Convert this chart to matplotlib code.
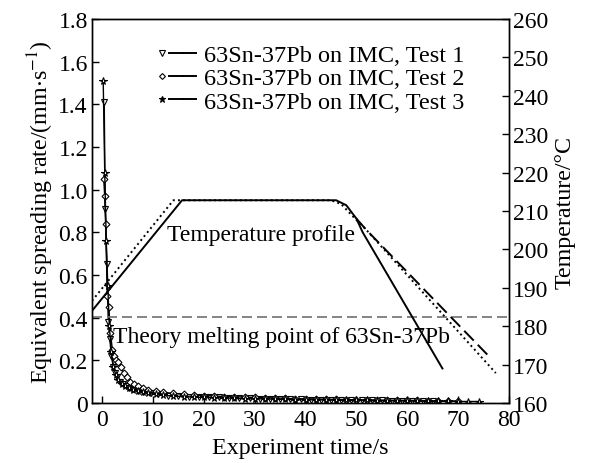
import matplotlib
matplotlib.use("Agg")
import matplotlib.pyplot as plt
from matplotlib.lines import Line2D
from matplotlib.legend_handler import HandlerTuple

plt.rcParams['font.family'] = ['Liberation Serif', 'DejaVu Serif']
plt.rcParams['mathtext.fontset'] = 'stix'

# spreading rate, test 1 (triangles)
t1 = [0.4, 0.6, 0.9, 1.2, 1.5, 1.8, 2.2, 2.6, 3.0, 3.5, 4.0, 4.6, 5.2, 6.0, 7.0, 8.0, 9.5, 11, 13, 15,
      17, 19, 21, 23, 25, 27, 29, 31, 33, 35, 37, 39, 41, 43, 45, 47, 49, 51, 53, 55, 57, 59, 61, 63, 65]
r1 = [1.41, 0.91, 0.65, 0.38, 0.30, 0.22, 0.17, 0.14, 0.12, 0.10, 0.09, 0.08, 0.07, 0.065, 0.055, 0.05,
      0.045, 0.04, 0.035, 0.033, 0.03, 0.03, 0.028, 0.026, 0.025, 0.024, 0.022, 0.02, 0.02, 0.019, 0.018,
      0.017, 0.016, 0.015, 0.015, 0.014, 0.013, 0.013, 0.012, 0.012, 0.011, 0.010, 0.010, 0.009, 0.009]

# test 2 (diamonds)
t2 = [0.3, 0.5, 0.7, 1.0, 1.3, 1.6, 2.0, 2.4, 2.8, 3.2, 3.7, 4.2, 4.8, 5.5, 6.2, 7.0, 8.0, 9.0, 10.5, 12,
      14, 16, 18, 20, 22, 24, 26, 28, 30, 32, 34, 36, 38, 40, 42, 44, 46, 48, 50, 52, 54, 56, 58, 60, 62, 64, 66, 68, 70]
r2 = [1.05, 0.97, 0.84, 0.50, 0.45, 0.33, 0.25, 0.22, 0.20, 0.19, 0.17, 0.14, 0.12, 0.10, 0.09, 0.08,
      0.07, 0.06, 0.055, 0.05, 0.045, 0.04, 0.038, 0.035, 0.033, 0.03, 0.03, 0.028, 0.026, 0.025, 0.024,
      0.022, 0.02, 0.02, 0.019, 0.018, 0.017, 0.016, 0.015, 0.015, 0.014, 0.013, 0.013, 0.012, 0.012,
      0.011, 0.010, 0.010, 0.009]

# test 3 (stars)
t3 = [0.2, 0.5, 0.8, 1.1, 1.4, 1.8, 2.2, 2.7, 3.2, 3.8, 4.5, 5.2, 6.0, 7.0, 8.0, 9.0, 10.5, 12, 14, 16,
      18, 20, 22, 24, 26, 28, 30, 32, 34, 36, 38, 40, 42, 44, 46, 48, 50, 52, 54, 56, 58, 60, 62, 64, 66,
      68, 70, 72, 74]
r3 = [1.51, 1.08, 0.76, 0.55, 0.36, 0.24, 0.17, 0.13, 0.11, 0.09, 0.08, 0.07, 0.06, 0.055, 0.05, 0.045,
      0.04, 0.036, 0.033, 0.03, 0.028, 0.026, 0.025, 0.024, 0.022, 0.02, 0.02, 0.019, 0.018, 0.017, 0.016,
      0.015, 0.015, 0.014, 0.013, 0.013, 0.012, 0.012, 0.011, 0.010, 0.010, 0.009, 0.009, 0.008, 0.008,
      0.008, 0.007, 0.007, 0.007]

# temperature profiles (right axis)
tp_solid = [-2, 15.7, 46.0, 48.0, 50.0, 51.2, 66.9]
T_solid = [184.0, 212.8, 212.8, 211.5, 208.0, 204.5, 169.0]
tp_dot = [-2, 14.0, 45.0, 47.0, 49.0, 52.0, 77.4]
T_dot = [186.6, 212.8, 212.8, 211.8, 209.0, 205.0, 167.8]
tp_dash = [50.0, 52.0, 76.1]
T_dash = [208.0, 205.0, 172.1]

melting_rate = 0.405

fig = plt.figure(figsize=(5.91, 4.64), dpi=100)
ax = fig.add_axes([0.1557, 0.1293, 0.7056, 0.8276])
ax2 = ax.twinx()

ms = 4.5
ax.plot(t1, r1, color='k', lw=1.0, marker='v', ms=ms, mfc='white', mec='k', mew=0.8)
ax.plot(t2, r2, color='k', lw=1.0, marker='D', ms=ms - 1, mfc='white', mec='k', mew=0.8)
ax.plot(t3, r3, color='k', lw=1.0, marker='*', ms=ms + 1, mfc='white', mec='k', mew=0.8)

ax.axhline(melting_rate, color='#707070', lw=1.2, dashes=(6, 3))

ax2.plot(tp_dot, T_dot, color='k', lw=1.4, ls=':')
ax2.plot(tp_dash, T_dash, color='k', lw=1.4, dashes=(7, 3))
ax2.plot(tp_solid, T_solid, color='k', lw=1.4)

ax.set_xlim(-2, 80)
ax.set_ylim(0, 1.8)
ax2.set_ylim(160, 260)
ax.set_xticks(range(0, 81, 10))
ax.set_yticks([0, 0.2, 0.4, 0.6, 0.8, 1.0, 1.2, 1.4, 1.6, 1.8])
ax.set_yticklabels(['0', '0.2', '0.4', '0.6', '0.8', '1.0', '1.2', '1.4', '1.6', '1.8'])
ax2.set_yticks(range(160, 261, 10))

fs = 17.3
for a in (ax, ax2):
    a.tick_params(direction='in', labelsize=17, length=5, width=1, pad=3)
    for s in a.spines.values():
        s.set_linewidth(1.0)
ax.tick_params(axis='x', pad=4)

ax.set_xlabel('Experiment time/s', fontsize=fs, labelpad=5)
ax.set_ylabel('Equivalent spreading rate/(mm$\\cdot$s$^{-1}$)', fontsize=fs, labelpad=2)
ax2.set_ylabel('Temperature/°C', fontsize=fs, labelpad=4)

ax.text(12.8, 0.79, 'Temperature profile', fontsize=17, va='center', ha='left')
ax.text(2.2, 0.31, 'Theory melting point of 63Sn-37Pb', fontsize=17, va='center', ha='left')

labels = ['63Sn-37Pb on IMC, Test 1', '63Sn-37Pb on IMC, Test 2', '63Sn-37Pb on IMC, Test 3']
mk = [('v', 4, 'white'), ('D', 3, 'white'), ('*', 5, 'k')]
handles = []
for m, s, fc in mk:
    h_m = Line2D([], [], ls='none', marker=m, ms=s, mfc=fc, mec='k', mew=0.8)
    h_l = Line2D([], [], color='k', lw=1.4)
    handles.append((h_m, h_l, h_l))
ax.legend(handles, labels, handler_map={tuple: HandlerTuple(ndivide=None, pad=0)},
          loc='upper left', bbox_to_anchor=(0.128, 0.96), frameon=False, fontsize=17.5,
          handlelength=1.7, handletextpad=0.3, labelspacing=0.05, borderaxespad=0)

fig.savefig('out.png', dpi=100)
